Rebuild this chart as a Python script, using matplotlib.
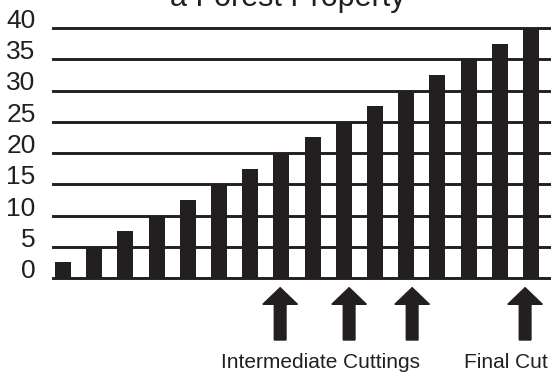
import matplotlib
matplotlib.use("Agg")
import matplotlib.pyplot as plt
import matplotlib.patches as mpatches

plt.rcParams['font.family'] = ['Liberation Sans', 'DejaVu Sans']

# Stand volume growth per period
periods = list(range(16))
volumes = [2.5, 5, 7.5, 10, 12.5, 15, 17.5, 20, 22.5, 25, 27.5, 30, 32.5, 35, 37.5, 40]
y_ticks = [0, 5, 10, 15, 20, 25, 30, 35, 40]
y_tick_labels = ['0', '5', '10', '15', '20', '25', '30', '35', '40']

# Harvest markers below the axis
cut_positions = [6.96, 9.17, 11.19, 14.81]
cut_labels = ['Intermediate Cuttings', 'Final Cut']
cut_label_positions = [8.25, 14.2]

title_text = 'a Forest Property'

INK = '#231f20'

W, H = 551, 373
fig = plt.figure(figsize=(W / 100, H / 100), dpi=100)
ax = fig.add_axes([53 / W, 95 / H, (551 - 53) / W, 250 / H])

ax.bar(periods, volumes, width=0.51, color=INK, zorder=3)

for v in y_ticks:
    ax.axhline(v, color=INK, linewidth=2.1, zorder=2, clip_on=False)

ax.set_xlim(-0.32, 15.64)
ax.set_ylim(0, 40)
for s in ax.spines.values():
    s.set_visible(False)
ax.set_xticks([])
ax.set_yticks(y_ticks)
ax.set_yticklabels(y_tick_labels, fontsize=19, color=INK)
ax.tick_params(axis='y', length=0, pad=12.5)
for lbl in ax.get_yticklabels():
    lbl.set_va('baseline')

# Upward arrows marking the cuts
for x in cut_positions:
    arr = mpatches.FancyArrow(x, -9.92, 0, 8.37, width=0.375, head_width=1.11,
                              head_length=2.66, length_includes_head=True,
                              color=INK, clip_on=False, zorder=3)
    ax.add_patch(arr)

for txt, x in zip(cut_labels, cut_label_positions):
    ax.text(x, -14.4, txt, ha='center', va='baseline', fontsize=15,
            color=INK, clip_on=False)

fig.text(288 / W, (H - 6) / H, title_text, ha='center', va='baseline',
         fontsize=22, color=INK)

fig.savefig('out.png', dpi=100)
